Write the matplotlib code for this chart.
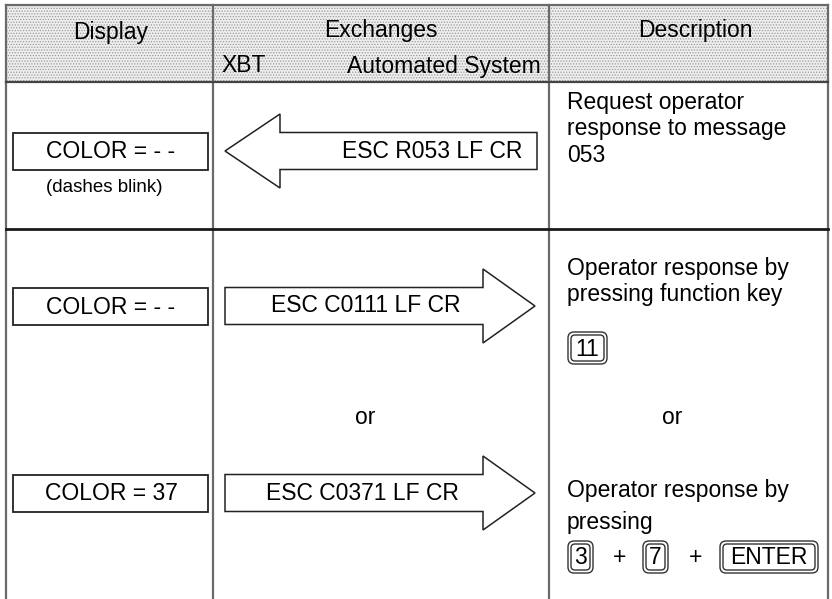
import matplotlib.pyplot as plt
from matplotlib.patches import Rectangle, Polygon, FancyBboxPatch

plt.rcParams['font.family'] = ['Liberation Sans', 'DejaVu Sans']

# table content
headers = ["Display", "Exchanges", "Description"]
sub_headers = ["XBT", "Automated System"]
displays = ["COLOR = - -", "COLOR = - -", "COLOR = 37"]
display_note = "(dashes blink)"
messages = ["ESC R053 LF CR", "ESC C0111 LF CR", "ESC C0371 LF CR"]
directions = ["left", "right", "right"]
descriptions = [
    ["Request operator", "response to message", "053"],
    ["Operator response by", "pressing function key"],
    ["Operator response by", "pressing"],
]
keys_row2 = ["11"]
keys_row3 = ["3", "+", "7", "+", "ENTER"]
or_text = "or"

fig = plt.figure(figsize=(8.32, 5.99), dpi=100)
ax = fig.add_axes([0, 0, 1, 1])
ax.set_xlim(0, 832)
ax.set_ylim(599, 0)
ax.axis("off")

FS = 16.5
col_x = [6, 213, 549, 828]
top, head_bot, row_sep = 5, 82, 229

# header stipple
plt.rcParams['hatch.linewidth'] = 0.6
ax.add_patch(Rectangle((col_x[0], top), col_x[3] - col_x[0], head_bot - top,
                       facecolor="#eeeeee", edgecolor="#9a9a9a", hatch="......", lw=0))

# grid lines
for x in col_x:
    ax.plot([x, x], [top, 599], color="#6a6a6a", lw=1.6)
ax.plot([col_x[0], col_x[3]], [top, top], color="#6a6a6a", lw=1.6)
ax.plot([col_x[0], col_x[3]], [head_bot, head_bot], color="#444444", lw=1.6)
ax.plot([col_x[0], col_x[3]], [row_sep, row_sep], color="#1a1a1a", lw=2)

# header texts
ax.text(111, 32, headers[0], fontsize=FS, ha="center", va="center")
ax.text(381, 30, headers[1], fontsize=FS, ha="center", va="center")
ax.text(695, 30, headers[2], fontsize=FS, ha="center", va="center")
ax.text(221, 66, sub_headers[0], fontsize=FS, ha="left", va="center")
ax.text(541, 66, sub_headers[1], fontsize=FS, ha="right", va="center")

row_y = [151, 306, 493]

# display boxes
for yc, txt in zip(row_y, displays):
    ax.add_patch(Rectangle((13, yc - 18.5), 195, 37, facecolor="white",
                           edgecolor="#222222", lw=1.3))
    ax.text(111, yc + 1, txt, fontsize=FS, ha="center", va="center")
ax.text(104, 188, display_note, fontsize=13.5, ha="center", va="center")

# arrows
x_tail_l, x_tip_l, x_base_l = 537, 225, 280
x_tail_r, x_base_r, x_tip_r = 225, 483, 535
shaft, head = 18.5, 37
text_x = [432, 366, 362]
for yc, msg, d, tx in zip(row_y, messages, directions, text_x):
    if d == "left":
        pts = [(x_tail_l, yc - shaft), (x_base_l, yc - shaft), (x_base_l, yc - head),
               (x_tip_l, yc), (x_base_l, yc + head), (x_base_l, yc + shaft),
               (x_tail_l, yc + shaft)]
    else:
        pts = [(x_tail_r, yc - shaft), (x_base_r, yc - shaft), (x_base_r, yc - head),
               (x_tip_r, yc), (x_base_r, yc + head), (x_base_r, yc + shaft),
               (x_tail_r, yc + shaft)]
    ax.add_patch(Polygon(pts, closed=True, facecolor="white", edgecolor="#222222", lw=1.1))
    ax.text(tx, yc, msg, fontsize=FS, ha="center", va="center")

# descriptions
desc_y = [[103, 129, 155], [268, 295], [490, 522]]
for lines, ys in zip(descriptions, desc_y):
    for line, y in zip(lines, ys):
        ax.text(567, y, line, fontsize=FS, ha="left", va="center")

ax.text(365, 418, or_text, fontsize=FS, ha="center", va="center")
ax.text(672, 418, or_text, fontsize=FS, ha="center", va="center")


def key(x0, x1, yc, label):
    h = 32
    ax.add_patch(FancyBboxPatch((x0, yc - h / 2), x1 - x0, h,
                                boxstyle="round,pad=0,rounding_size=6",
                                facecolor="white", edgecolor="#333333", lw=1.0))
    ax.add_patch(FancyBboxPatch((x0 + 3, yc - h / 2 + 3), x1 - x0 - 6, h - 6,
                                boxstyle="round,pad=0,rounding_size=4",
                                facecolor="white", edgecolor="#333333", lw=1.0))
    ax.text((x0 + x1) / 2, yc + 1, label, fontsize=FS, ha="center", va="center")


key(568, 607, 348, keys_row2[0])
key_x = [(568, 593), (620, None), (643, 668), (696, None), (720, 818)]
for lab, (a, b) in zip(keys_row3, key_x):
    if b is None:
        ax.text(a, 558, lab, fontsize=FS, ha="center", va="center")
    else:
        key(a, b, 557, lab)

fig.savefig("out.png", dpi=100)
